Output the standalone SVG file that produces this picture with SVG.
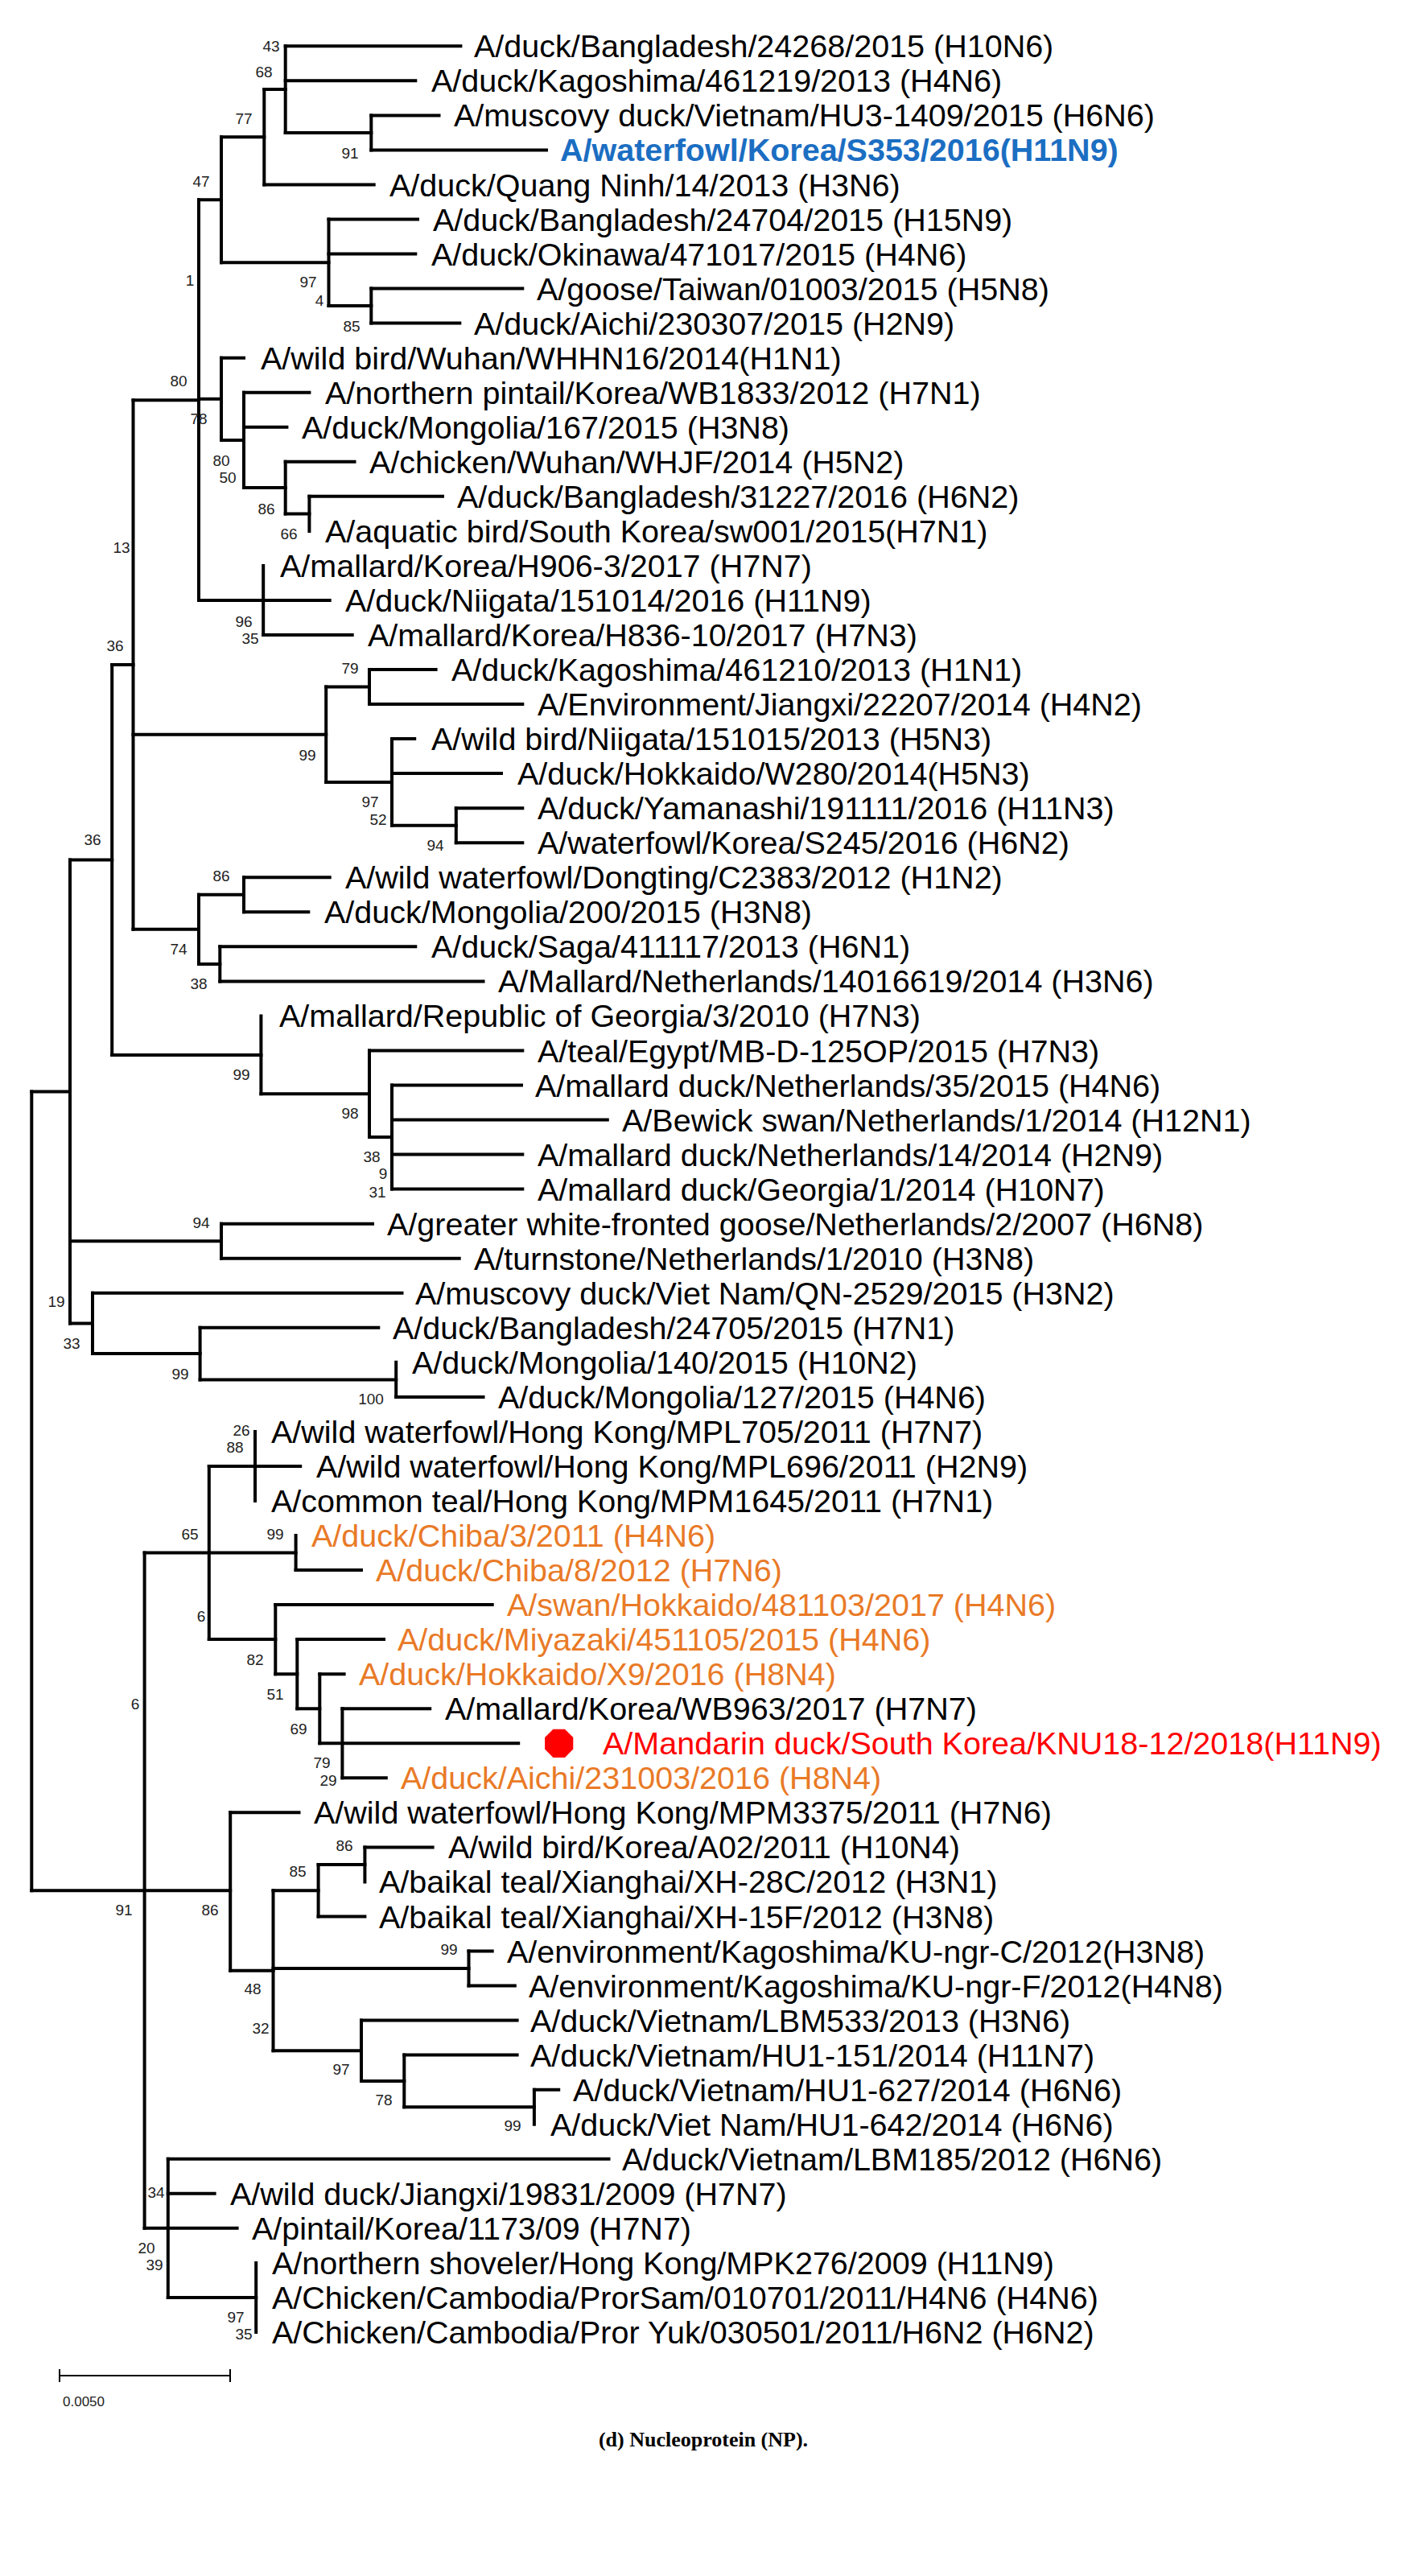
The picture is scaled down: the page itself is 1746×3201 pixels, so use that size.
<svg xmlns="http://www.w3.org/2000/svg" width="1746" height="3201" viewBox="0 0 1746 3201">
<style>
.t{font-family:"Liberation Sans",Arial,sans-serif;font-size:39.5px;fill:#000}
.o{fill:#E97A27}
.bl{fill:#1B6EC2;font-weight:bold}
.r{fill:#FF0000}
.b{font-family:"Liberation Sans",Arial,sans-serif;font-size:19px;fill:#222;text-anchor:middle}
.e{fill:none;stroke:#000;stroke-width:4;stroke-linecap:square}
</style>
<rect width="1746" height="3201" fill="#fff"/>
<g id="connectors">
<path class="e" d="M39.3 1356.4V2349.2 M87 1068.4V1644.4 M139.2 826V1310.9 M165.5 497.2V1154.8 M247 248.3V746 M275 170.3V326.3 M328.3 111.1V229.5 M354.7 57.3V164.9 M461.3 143.4V186.4 M408.5 272.5V380.1 M461.3 358.6V401.6 M275 444.7V546.9 M303 487.7V606.1 M354.7 573.8V638.4 M384.4 616.8V659.9 M327.2 702.9V789 M405.2 853.6V971.9 M459 832V875.1 M487 918.1V1025.7 M566.8 1004.2V1047.2 M247 1111.8V1197.9 M303 1090.3V1133.3 M273.3 1176.3V1219.4 M324.4 1262.4V1359.3 M459 1305.5V1413.1 M487 1348.5V1477.6 M275 1520.7V1563.7 M115 1606.7V1682.1 M248.6 1649.8V1714.4 M492.2 1692.8V1735.9 M179.6 1929.6V2768.8 M259.8 1822V2037.1 M317 1778.9V1865 M367.6 1908V1951.1 M342.3 1994.1V2080.2 M369.3 2037.1V2123.2 M397.3 2080.2V2166.3 M425.4 2123.2V2209.3 M286.2 2252.3V2448.7 M339.5 2349.2V2548.3 M395.6 2316.9V2381.5 M453.4 2295.4V2338.4 M582.5 2424.5V2467.5 M449 2510.6V2585.9 M502.3 2553.6V2618.2 M663.9 2596.7V2639.7 M208.8 2682.7V2854.9 M318.2 2811.9V2897.9"/>
<path class="e" d="M39.3 1356.4H87 M39.3 2349.2H179.6 M87 1068.4H139.2 M87 1542.2H275 M87 1644.4H115 M139.2 826H165.5 M139.2 1310.9H324.4 M165.5 497.2H247 M165.5 912.8H405.2 M165.5 1154.8H247 M247 248.3H275 M247 495.8H275 M247 746H327.2 M275 170.3H328.3 M275 326.3H408.5 M328.3 111.1H354.7 M328.3 229.5H464.7 M354.7 57.3H572.4 M354.7 100.3H516.3 M354.7 164.9H461.3 M461.3 143.4H545.5 M461.3 186.4H679 M408.5 272.5H519 M408.5 315.5H516.3 M408.5 380.1H461.3 M461.3 358.6H649.3 M461.3 401.6H571.3 M275 444.7H303 M275 546.9H303 M303 487.7H384.4 M303 530.7H356.4 M303 606.1H354.7 M354.7 573.8H440.5 M354.7 638.4H384.4 M384.4 616.8H550 M327.2 745.9H409.7 M327.2 789H437.7 M405.2 853.6H459 M405.2 971.9H487 M459 832H541.6 M459 875.1H649.3 M487 918.1H515.2 M487 961.1H623 M487 1025.7H566.8 M566.8 1004.2H649.3 M566.8 1047.2H649.3 M247 1111.8H303 M247 1197.9H273.3 M303 1090.3H409.7 M303 1133.3H383.3 M273.3 1176.3H516.3 M273.3 1219.4H600.5 M324.4 1359.3H459 M459 1305.5H649.3 M459 1413.1H487 M487 1348.5H648 M487 1391.5H754.8 M487 1434.6H649.3 M487 1477.6H649.3 M275 1520.7H463 M275 1563.7H570.7 M115 1606.7H499.5 M115 1682.1H248.6 M248.6 1649.8H470.3 M248.6 1714.4H492.2 M492.2 1735.9H600.5 M179.6 1929.6H259.8 M179.6 2349.2H286.2 M179.6 2768.8H208.8 M259.8 1822H317 M259.8 1929.5H367.6 M259.8 2037.1H342.3 M317 1821.9H373.2 M367.6 1951.1H449 M342.3 1994.1H611.7 M342.3 2080.2H369.3 M369.3 2037.1H477 M369.3 2123.2H397.3 M397.3 2080.2H427.6 M397.3 2166.3H425.4 M425.4 2123.2H534.2 M425.4 2166.3H644.2 M425.4 2209.3H479.8 M286.2 2252.3H371.5 M286.2 2448.7H339.5 M339.5 2349.2H395.6 M339.5 2446H582.5 M339.5 2548.3H449 M395.6 2316.9H453.4 M395.6 2381.5H453.4 M453.4 2295.4H537.6 M582.5 2424.5H611.7 M582.5 2467.5H639.8 M449 2510.6H642.6 M449 2585.9H502.3 M502.3 2553.6H642.6 M502.3 2618.2H663.9 M663.9 2596.7H694.2 M208.8 2682.7H756.5 M208.8 2725.8H266.6 M208.8 2768.8H294.6 M208.8 2854.9H318.2"/>
</g>
<g id="bootstrap">
<text class="b" x="337" y="64">43</text>
<text class="b" x="328" y="96">68</text>
<text class="b" x="303" y="154">77</text>
<text class="b" x="435" y="197">91</text>
<text class="b" x="250" y="232">47</text>
<text class="b" x="236" y="355">1</text>
<text class="b" x="383" y="357">97</text>
<text class="b" x="397" y="380">4</text>
<text class="b" x="437" y="412">85</text>
<text class="b" x="222" y="480">80</text>
<text class="b" x="247" y="527">78</text>
<text class="b" x="275" y="579">80</text>
<text class="b" x="283" y="600">50</text>
<text class="b" x="331" y="639">86</text>
<text class="b" x="359" y="670">66</text>
<text class="b" x="151" y="687">13</text>
<text class="b" x="303" y="779">96</text>
<text class="b" x="311" y="800">35</text>
<text class="b" x="143" y="809">36</text>
<text class="b" x="435" y="837">79</text>
<text class="b" x="382" y="945">99</text>
<text class="b" x="460" y="1003">97</text>
<text class="b" x="470" y="1025">52</text>
<text class="b" x="541" y="1057">94</text>
<text class="b" x="115" y="1050">36</text>
<text class="b" x="275" y="1095">86</text>
<text class="b" x="222" y="1186">74</text>
<text class="b" x="247" y="1229">38</text>
<text class="b" x="300" y="1342">99</text>
<text class="b" x="435" y="1390">98</text>
<text class="b" x="462" y="1444">38</text>
<text class="b" x="476" y="1465">9</text>
<text class="b" x="469" y="1488">31</text>
<text class="b" x="250" y="1526">94</text>
<text class="b" x="70" y="1624">19</text>
<text class="b" x="89" y="1676">33</text>
<text class="b" x="224" y="1714">99</text>
<text class="b" x="461" y="1745">100</text>
<text class="b" x="300" y="1784">26</text>
<text class="b" x="292" y="1805">88</text>
<text class="b" x="236" y="1913">65</text>
<text class="b" x="342" y="1913">99</text>
<text class="b" x="250" y="2015">6</text>
<text class="b" x="317" y="2069">82</text>
<text class="b" x="342" y="2112">51</text>
<text class="b" x="371" y="2155">69</text>
<text class="b" x="400" y="2197">79</text>
<text class="b" x="408" y="2219">29</text>
<text class="b" x="168" y="2124">6</text>
<text class="b" x="428" y="2300">86</text>
<text class="b" x="370" y="2332">85</text>
<text class="b" x="154" y="2380">91</text>
<text class="b" x="261" y="2380">86</text>
<text class="b" x="558" y="2429">99</text>
<text class="b" x="314" y="2478">48</text>
<text class="b" x="324" y="2527">32</text>
<text class="b" x="424" y="2578">97</text>
<text class="b" x="477" y="2616">78</text>
<text class="b" x="637" y="2648">99</text>
<text class="b" x="194" y="2731">34</text>
<text class="b" x="182" y="2800">20</text>
<text class="b" x="192" y="2821">39</text>
<text class="b" x="293" y="2886">97</text>
<text class="b" x="303" y="2907">35</text>
</g>
<g id="leaf1"><text class="t" x="589" y="71.3">A/duck/Bangladesh/24268/2015 (H10N6)</text></g>
<g id="leaf2"><text class="t" x="536" y="114.3">A/duck/Kagoshima/461219/2013 (H4N6)</text></g>
<g id="leaf3"><text class="t" x="564" y="157.4">A/muscovy duck/Vietnam/HU3-1409/2015 (H6N6)</text></g>
<g id="leaf4"><text class="t bl" x="696" y="200.4">A/waterfowl/Korea/S353/2016(H11N9)</text></g>
<g id="leaf5"><text class="t" x="484" y="243.5">A/duck/Quang Ninh/14/2013 (H3N6)</text></g>
<g id="leaf6"><text class="t" x="538" y="286.5">A/duck/Bangladesh/24704/2015 (H15N9)</text></g>
<g id="leaf7"><text class="t" x="536" y="329.5">A/duck/Okinawa/471017/2015 (H4N6)</text></g>
<g id="leaf8"><text class="t" x="667" y="372.6">A/goose/Taiwan/01003/2015 (H5N8)</text></g>
<g id="leaf9"><text class="t" x="589" y="415.6">A/duck/Aichi/230307/2015 (H2N9)</text></g>
<g id="leaf10"><text class="t" x="324" y="458.7">A/wild bird/Wuhan/WHHN16/2014(H1N1)</text></g>
<g id="leaf11"><text class="t" x="404" y="501.7">A/northern pintail/Korea/WB1833/2012 (H7N1)</text></g>
<g id="leaf12"><text class="t" x="375" y="544.7">A/duck/Mongolia/167/2015 (H3N8)</text></g>
<g id="leaf13"><text class="t" x="459" y="587.8">A/chicken/Wuhan/WHJF/2014 (H5N2)</text></g>
<g id="leaf14"><text class="t" x="568" y="630.8">A/duck/Bangladesh/31227/2016 (H6N2)</text></g>
<g id="leaf15"><text class="t" x="404" y="673.9">A/aquatic bird/South Korea/sw001/2015(H7N1)</text></g>
<g id="leaf16"><text class="t" x="348" y="716.9">A/mallard/Korea/H906-3/2017 (H7N7)</text></g>
<g id="leaf17"><text class="t" x="429" y="759.9">A/duck/Niigata/151014/2016 (H11N9)</text></g>
<g id="leaf18"><text class="t" x="457" y="803">A/mallard/Korea/H836-10/2017 (H7N3)</text></g>
<g id="leaf19"><text class="t" x="561" y="846">A/duck/Kagoshima/461210/2013 (H1N1)</text></g>
<g id="leaf20"><text class="t" x="668" y="889.1">A/Environment/Jiangxi/22207/2014 (H4N2)</text></g>
<g id="leaf21"><text class="t" x="536" y="932.1">A/wild bird/Niigata/151015/2013 (H5N3)</text></g>
<g id="leaf22"><text class="t" x="643" y="975.1">A/duck/Hokkaido/W280/2014(H5N3)</text></g>
<g id="leaf23"><text class="t" x="668" y="1018.2">A/duck/Yamanashi/191111/2016 (H11N3)</text></g>
<g id="leaf24"><text class="t" x="668" y="1061.2">A/waterfowl/Korea/S245/2016 (H6N2)</text></g>
<g id="leaf25"><text class="t" x="429" y="1104.3">A/wild waterfowl/Dongting/C2383/2012 (H1N2)</text></g>
<g id="leaf26"><text class="t" x="403" y="1147.3">A/duck/Mongolia/200/2015 (H3N8)</text></g>
<g id="leaf27"><text class="t" x="536" y="1190.3">A/duck/Saga/411117/2013 (H6N1)</text></g>
<g id="leaf28"><text class="t" x="619" y="1233.4">A/Mallard/Netherlands/14016619/2014 (H3N6)</text></g>
<g id="leaf29"><text class="t" x="347" y="1276.4">A/mallard/Republic of Georgia/3/2010 (H7N3)</text></g>
<g id="leaf30"><text class="t" x="668" y="1319.5">A/teal/Egypt/MB-D-125OP/2015 (H7N3)</text></g>
<g id="leaf31"><text class="t" x="665" y="1362.5">A/mallard duck/Netherlands/35/2015 (H4N6)</text></g>
<g id="leaf32"><text class="t" x="773" y="1405.5">A/Bewick swan/Netherlands/1/2014 (H12N1)</text></g>
<g id="leaf33"><text class="t" x="668" y="1448.6">A/mallard duck/Netherlands/14/2014 (H2N9)</text></g>
<g id="leaf34"><text class="t" x="668" y="1491.6">A/mallard duck/Georgia/1/2014 (H10N7)</text></g>
<g id="leaf35"><text class="t" x="481" y="1534.7">A/greater white-fronted goose/Netherlands/2/2007 (H6N8)</text></g>
<g id="leaf36"><text class="t" x="589" y="1577.7">A/turnstone/Netherlands/1/2010 (H3N8)</text></g>
<g id="leaf37"><text class="t" x="516" y="1620.7">A/muscovy duck/Viet Nam/QN-2529/2015 (H3N2)</text></g>
<g id="leaf38"><text class="t" x="488" y="1663.8">A/duck/Bangladesh/24705/2015 (H7N1)</text></g>
<g id="leaf39"><text class="t" x="512" y="1706.8">A/duck/Mongolia/140/2015 (H10N2)</text></g>
<g id="leaf40"><text class="t" x="619" y="1749.9">A/duck/Mongolia/127/2015 (H4N6)</text></g>
<g id="leaf41"><text class="t" x="337" y="1792.9">A/wild waterfowl/Hong Kong/MPL705/2011 (H7N7)</text></g>
<g id="leaf42"><text class="t" x="393" y="1835.9">A/wild waterfowl/Hong Kong/MPL696/2011 (H2N9)</text></g>
<g id="leaf43"><text class="t" x="337" y="1879">A/common teal/Hong Kong/MPM1645/2011 (H7N1)</text></g>
<g id="leaf44"><text class="t o" x="387" y="1922">A/duck/Chiba/3/2011 (H4N6)</text></g>
<g id="leaf45"><text class="t o" x="467" y="1965.1">A/duck/Chiba/8/2012 (H7N6)</text></g>
<g id="leaf46"><text class="t o" x="630" y="2008.1">A/swan/Hokkaido/481103/2017 (H4N6)</text></g>
<g id="leaf47"><text class="t o" x="494" y="2051.1">A/duck/Miyazaki/451105/2015 (H4N6)</text></g>
<g id="leaf48"><text class="t o" x="446" y="2094.2">A/duck/Hokkaido/X9/2016 (H8N4)</text></g>
<g id="leaf49"><text class="t" x="553" y="2137.2">A/mallard/Korea/WB963/2017 (H7N7)</text></g>
<g id="leaf50"><polygon fill="#FF0000" points="702,2148.7 712.3,2159 712.3,2173.6 702,2183.9 687.4,2183.9 677.1,2173.6 677.1,2159 687.4,2148.7"/><text class="t r" x="749" y="2180.3">A/Mandarin duck/South Korea/KNU18-12/2018(H11N9)</text></g>
<g id="leaf51"><text class="t o" x="498" y="2223.3">A/duck/Aichi/231003/2016 (H8N4)</text></g>
<g id="leaf52"><text class="t" x="390" y="2266.3">A/wild waterfowl/Hong Kong/MPM3375/2011 (H7N6)</text></g>
<g id="leaf53"><text class="t" x="557" y="2309.4">A/wild bird/Korea/A02/2011 (H10N4)</text></g>
<g id="leaf54"><text class="t" x="471" y="2352.4">A/baikal teal/Xianghai/XH-28C/2012 (H3N1)</text></g>
<g id="leaf55"><text class="t" x="471" y="2395.5">A/baikal teal/Xianghai/XH-15F/2012 (H3N8)</text></g>
<g id="leaf56"><text class="t" x="630" y="2438.5">A/environment/Kagoshima/KU-ngr-C/2012(H3N8)</text></g>
<g id="leaf57"><text class="t" x="657" y="2481.5">A/environment/Kagoshima/KU-ngr-F/2012(H4N8)</text></g>
<g id="leaf58"><text class="t" x="659" y="2524.6">A/duck/Vietnam/LBM533/2013 (H3N6)</text></g>
<g id="leaf59"><text class="t" x="659" y="2567.6">A/duck/Vietnam/HU1-151/2014 (H11N7)</text></g>
<g id="leaf60"><text class="t" x="712" y="2610.7">A/duck/Vietnam/HU1-627/2014 (H6N6)</text></g>
<g id="leaf61"><text class="t" x="684" y="2653.7">A/duck/Viet Nam/HU1-642/2014 (H6N6)</text></g>
<g id="leaf62"><text class="t" x="773" y="2696.7">A/duck/Vietnam/LBM185/2012 (H6N6)</text></g>
<g id="leaf63"><text class="t" x="286" y="2739.8">A/wild duck/Jiangxi/19831/2009 (H7N7)</text></g>
<g id="leaf64"><text class="t" x="313" y="2782.8">A/pintail/Korea/1173/09 (H7N7)</text></g>
<g id="leaf65"><text class="t" x="338" y="2825.9">A/northern shoveler/Hong Kong/MPK276/2009 (H11N9)</text></g>
<g id="leaf66"><text class="t" x="338" y="2868.9">A/Chicken/Cambodia/ProrSam/010701/2011/H4N6 (H4N6)</text></g>
<g id="leaf67"><text class="t" x="338" y="2911.9">A/Chicken/Cambodia/Pror Yuk/030501/2011/H6N2 (H6N2)</text></g>
<g id="scalebar">
<path d="M74 2952H286 M74 2944V2960 M286 2944V2960" fill="none" stroke="#000" stroke-width="2"/>
<text x="78" y="2990" font-family="Liberation Sans,Arial,sans-serif" font-size="17" fill="#222">0.0050</text>
</g>
<g id="caption"><text x="874" y="3040" text-anchor="middle" font-family="Liberation Serif,Times New Roman,serif" font-size="26" font-weight="bold" fill="#000">(d) Nucleoprotein (NP).</text></g>
</svg>
